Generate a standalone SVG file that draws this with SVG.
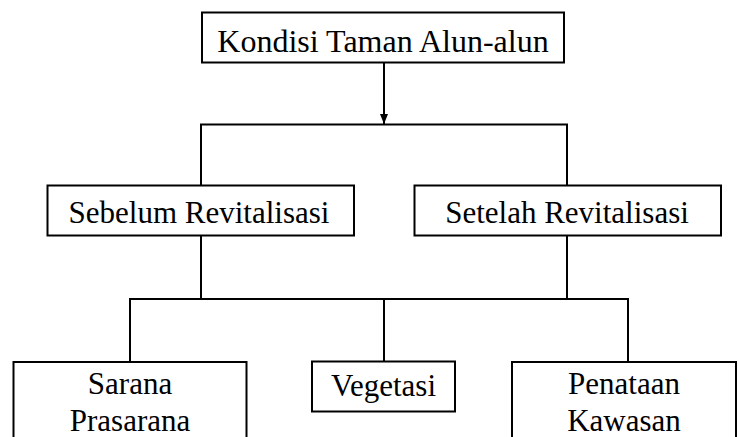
<svg xmlns="http://www.w3.org/2000/svg" width="738" height="437" viewBox="0 0 738 437">
<style>
.box{fill:#fff;stroke:#000;stroke-width:2}
.ln{fill:none;stroke:#000;stroke-width:2}
text{font-family:"Liberation Serif","Times New Roman",serif;fill:#000;text-anchor:middle}
</style>
<defs>
<marker id="arr" markerWidth="10" markerHeight="8" refX="10" refY="4" orient="auto" markerUnits="userSpaceOnUse" viewBox="0 0 10 8">
<path d="M0,0 L10,4 L0,8 Z" fill="#000"/>
</marker>
</defs>
<rect width="738" height="437" fill="#fff"/>
<g id="connectors">
<line class="ln" x1="384" y1="63" x2="384" y2="124" marker-end="url(#arr)"/>
<polyline class="ln" points="201,185 201,124.5 567,124.5 567,185"/>
<line class="ln" x1="201" y1="236" x2="201" y2="299"/>
<line class="ln" x1="567" y1="236" x2="567" y2="299"/>
<polyline class="ln" points="130,362 130,299 628,299 628,362"/>
<line class="ln" x1="384" y1="299" x2="384" y2="361"/>
</g>
<g id="node-kondisi">
<rect class="box" x="202" y="12.5" width="362" height="50"/>
<text x="383" y="52" font-size="32">Kondisi Taman Alun-alun</text>
</g>
<g id="node-sebelum">
<rect class="box" x="47.5" y="185.5" width="306.5" height="50"/>
<text x="199" y="223" font-size="31">Sebelum Revitalisasi</text>
</g>
<g id="node-setelah">
<rect class="box" x="414.5" y="185.5" width="306.5" height="50"/>
<text x="567" y="223" font-size="31">Setelah Revitalisasi</text>
</g>
<g id="node-sarana">
<rect class="box" x="13.5" y="362" width="233" height="90"/>
<text x="130" y="394" font-size="31">Sarana</text>
<text x="130" y="431" font-size="31">Prasarana</text>
</g>
<g id="node-vegetasi">
<rect class="box" x="312" y="361.5" width="143" height="50"/>
<text x="383.5" y="396" font-size="31">Vegetasi</text>
</g>
<g id="node-penataan">
<rect class="box" x="512" y="362" width="224" height="90"/>
<text x="624" y="394" font-size="31">Penataan</text>
<text x="624" y="431" font-size="31">Kawasan</text>
</g>
</svg>
